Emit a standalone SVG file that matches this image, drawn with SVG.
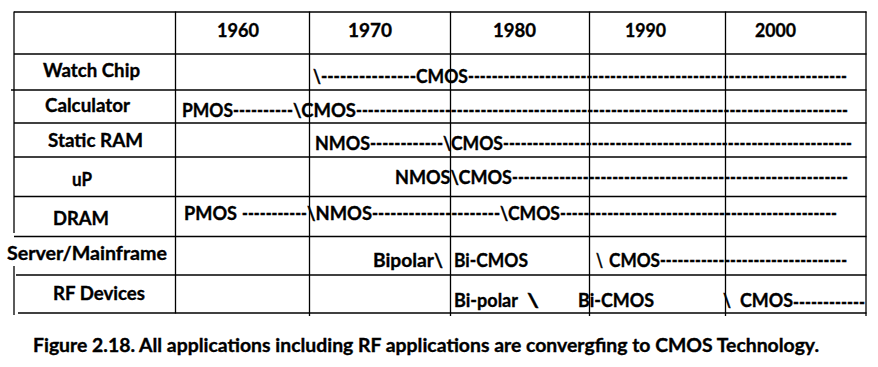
<svg xmlns="http://www.w3.org/2000/svg" width="878" height="367" viewBox="0 0 878 367">
<style>
.t{font-family:Lato,"Liberation Sans",sans-serif;font-weight:700;font-size:18.5px;fill:#000;stroke:#000;stroke-width:0.35}
.g line{stroke:#000;stroke-width:1.3}
</style>
<rect width="878" height="367" fill="#fff"/>
<g id="grid" class="g">
<line x1="14" y1="12" x2="866.5" y2="12"/>
<line x1="14" y1="54" x2="866.5" y2="54"/>
<line x1="11" y1="90" x2="866.5" y2="90"/>
<line x1="14" y1="123" x2="866.5" y2="123"/>
<line x1="14" y1="157" x2="866.5" y2="157"/>
<line x1="14" y1="196.5" x2="866.5" y2="196.5"/>
<line x1="14" y1="236.5" x2="866.5" y2="236.5"/>
<line x1="16" y1="275" x2="866.5" y2="275"/>
<line x1="18" y1="313" x2="866.5" y2="313"/>
<line x1="14" y1="11.4" x2="14" y2="233"/>
<line x1="14" y1="266" x2="14" y2="315"/>
<line x1="175.5" y1="11.4" x2="175.5" y2="313.6"/>
<line x1="309.5" y1="11.4" x2="309.5" y2="316"/>
<line x1="450.5" y1="11.4" x2="450.5" y2="316"/>
<line x1="589.5" y1="11.4" x2="589.5" y2="316"/>
<line x1="725.5" y1="11.4" x2="725.5" y2="316"/>
<line x1="866" y1="11.4" x2="866" y2="316"/>
</g>
<g id="header">
<text class="t" x="217" y="37" textLength="42" lengthAdjust="spacingAndGlyphs">1960</text>
<text class="t" x="348" y="37" textLength="44" lengthAdjust="spacingAndGlyphs">1970</text>
<text class="t" x="493" y="37" textLength="43" lengthAdjust="spacingAndGlyphs">1980</text>
<text class="t" x="625" y="37" textLength="41" lengthAdjust="spacingAndGlyphs">1990</text>
<text class="t" x="755" y="37" textLength="41" lengthAdjust="spacingAndGlyphs">2000</text>
</g>
<g id="row-watch-chip">
<text class="t" x="43" y="77" textLength="97" lengthAdjust="spacingAndGlyphs">Watch Chip</text>
<text class="t" x="313" y="83" textLength="103" lengthAdjust="spacingAndGlyphs">\---------------</text>
<text class="t" x="416" y="83" textLength="52" lengthAdjust="spacingAndGlyphs">CMOS</text>
<text class="t" x="468" y="83" textLength="379" lengthAdjust="spacingAndGlyphs">----------------------------------------------------------------</text>
</g>
<g id="row-calculator">
<text class="t" x="45" y="112" textLength="85" lengthAdjust="spacingAndGlyphs">Calculator</text>
<text class="t" x="182" y="116.5" textLength="51" lengthAdjust="spacingAndGlyphs">PMOS</text>
<text class="t" x="233" y="116.5" textLength="60" lengthAdjust="spacingAndGlyphs">----------</text>
<text class="t" x="293" y="116.5" textLength="63" lengthAdjust="spacingAndGlyphs">\CMOS</text>
<text class="t" x="356" y="116.5" textLength="492" lengthAdjust="spacingAndGlyphs">-----------------------------------------------------------------------------------</text>
</g>
<g id="row-static-ram">
<text class="t" x="48" y="147" textLength="95" lengthAdjust="spacingAndGlyphs">Static RAM</text>
<text class="t" x="315" y="150" textLength="55" lengthAdjust="spacingAndGlyphs">NMOS</text>
<text class="t" x="370" y="150" textLength="73" lengthAdjust="spacingAndGlyphs">------------</text>
<text class="t" x="443" y="150" textLength="60" lengthAdjust="spacingAndGlyphs">\CMOS</text>
<text class="t" x="503" y="150" textLength="349" lengthAdjust="spacingAndGlyphs">-----------------------------------------------------------</text>
</g>
<g id="row-up">
<text class="t" x="72" y="185.5" textLength="20" lengthAdjust="spacingAndGlyphs">uP</text>
<text class="t" x="395" y="183.5" textLength="117" lengthAdjust="spacingAndGlyphs">NMOS\CMOS</text>
<text class="t" x="512" y="183.5" textLength="336" lengthAdjust="spacingAndGlyphs">---------------------------------------------------------</text>
</g>
<g id="row-dram">
<text class="t" x="53" y="225" textLength="56" lengthAdjust="spacingAndGlyphs">DRAM</text>
<text class="t" x="184" y="220" textLength="53" lengthAdjust="spacingAndGlyphs">PMOS</text>
<text class="t" x="242" y="220" textLength="65" lengthAdjust="spacingAndGlyphs">-----------</text>
<text class="t" x="307" y="220" textLength="65" lengthAdjust="spacingAndGlyphs">\NMOS</text>
<text class="t" x="372" y="220" textLength="128" lengthAdjust="spacingAndGlyphs">---------------------</text>
<text class="t" x="500" y="220" textLength="60" lengthAdjust="spacingAndGlyphs">\CMOS</text>
<text class="t" x="560" y="220" textLength="277" lengthAdjust="spacingAndGlyphs">-----------------------------------------------</text>
</g>
<g id="row-server">
<text class="t" x="7" y="259.5" textLength="160" lengthAdjust="spacingAndGlyphs">Server/Mainframe</text>
<text class="t" x="373" y="267" textLength="70" lengthAdjust="spacingAndGlyphs">Bipolar\</text>
<text class="t" x="454" y="267" textLength="74" lengthAdjust="spacingAndGlyphs">Bi-CMOS</text>
<text class="t" x="596" y="267" textLength="7" lengthAdjust="spacingAndGlyphs">\</text>
<text class="t" x="609" y="267" textLength="51" lengthAdjust="spacingAndGlyphs">CMOS</text>
<text class="t" x="660" y="267" textLength="187" lengthAdjust="spacingAndGlyphs">--------------------------------</text>
</g>
<g id="row-rf">
<text class="t" x="53" y="300" textLength="92" lengthAdjust="spacingAndGlyphs">RF Devices</text>
<text class="t" x="454" y="306.5" textLength="64" lengthAdjust="spacingAndGlyphs">Bi-polar</text>
<text class="t" x="527" y="306.5" textLength="12" lengthAdjust="spacingAndGlyphs">\</text>
<text class="t" x="578" y="306.5" textLength="76" lengthAdjust="spacingAndGlyphs">Bi-CMOS</text>
<text class="t" x="723" y="306.5" textLength="8" lengthAdjust="spacingAndGlyphs">\</text>
<text class="t" x="740" y="306.5" textLength="53" lengthAdjust="spacingAndGlyphs">CMOS</text>
<text class="t" x="793" y="309" textLength="72" lengthAdjust="spacingAndGlyphs">------------</text>
</g>
<g id="caption">
<text class="t" x="33" y="352" textLength="786" lengthAdjust="spacingAndGlyphs">Figure 2.18. All applications including RF applications are convergfing to CMOS Technology.</text>
</g>
</svg>
